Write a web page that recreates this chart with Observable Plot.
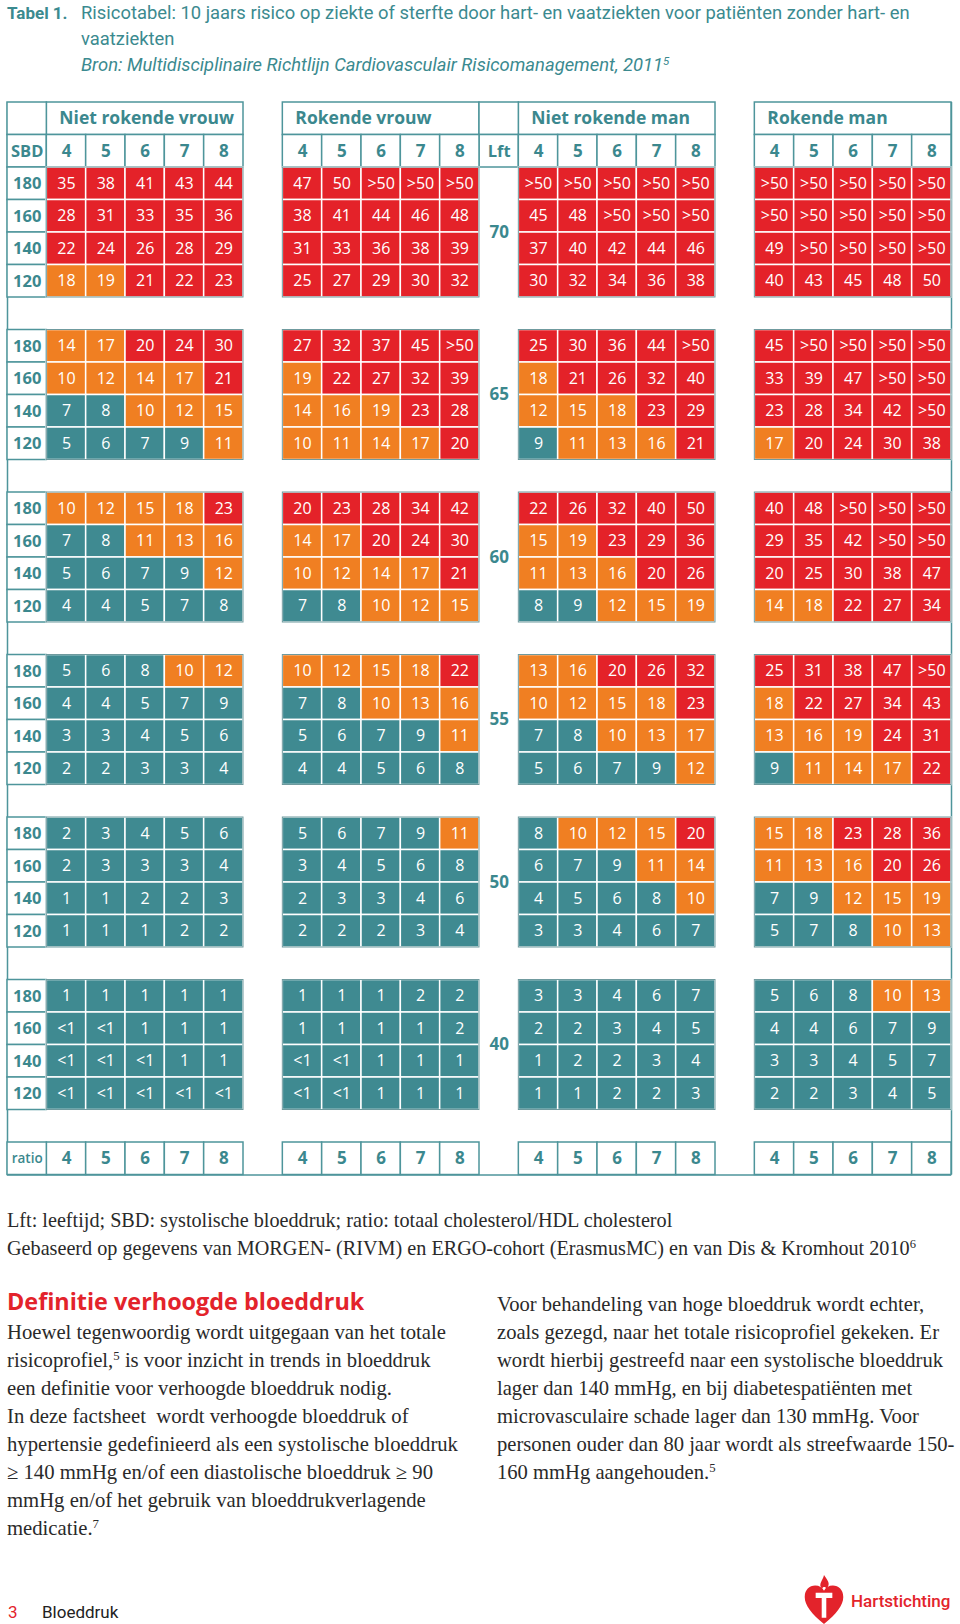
<!DOCTYPE html>
<html><head><meta charset="utf-8">
<script src="https://cdn.jsdelivr.net/npm/d3@7"></script>
<script src="https://cdn.jsdelivr.net/npm/@observablehq/plot@0.6"></script>
<style>
body{margin:0;background:#fff;}
#page{position:relative;width:960px;height:1624px;overflow:hidden;font-family:Roboto,sans-serif;}
.abs{position:absolute;white-space:nowrap;}
.title{color:#3b8a8f;font-family:Roboto,sans-serif;font-size:18.4px;line-height:26px;}
.serif{font-family:"Liberation Serif",serif;color:#2a2a2a;}
sup{font-size:0.62em;line-height:0;vertical-align:0.55em;}
</style></head><body>
<div id="page">
  <div class="abs title" style="left:7px;top:0px;font-weight:bold;font-size:17px;">Tabel 1.</div>
  <div class="abs title" style="left:81px;top:0px;">Risicotabel: 10 jaars risico op ziekte of sterfte door hart- en vaatziekten voor patiënten zonder hart- en<br>vaatziekten<br><i>Bron: Multidisciplinaire Richtlijn Cardiovasculair Risicomanagement, 2011<sup>5</sup></i></div>
  <div id="chart" class="abs" style="left:0;top:90px"></div>
  <div class="abs serif" style="left:7px;top:1206px;font-size:20.2px;line-height:28px;">Lft: leeftijd; SBD: systolische bloeddruk; ratio: totaal cholesterol/HDL cholesterol<br>Gebaseerd op gegevens van MORGEN- (RIVM) en ERGO-cohort (ErasmusMC) en van Dis &amp; Kromhout 2010<sup>6</sup></div>
  <div class="abs" style="left:7px;top:1286px;font-family:'Open Sans',sans-serif;font-weight:bold;font-size:23.4px;line-height:30px;color:#e3232b;">Definitie verhoogde bloeddruk</div>
  <div class="abs serif" style="left:7px;top:1318px;font-size:20.7px;line-height:28px;">Hoewel tegenwoordig wordt uitgegaan van het totale<br>risicoprofiel,<sup>5</sup> is voor inzicht in trends in bloeddruk<br>een definitie voor verhoogde bloeddruk nodig.<br>In deze factsheet&nbsp; wordt verhoogde bloeddruk of<br>hypertensie gedefinieerd als een systolische bloeddruk<br>≥ 140 mmHg en/of een diastolische bloeddruk ≥ 90<br>mmHg en/of het gebruik van bloeddrukverlagende<br>medicatie.<sup>7</sup></div>
  <div class="abs serif" style="left:497px;top:1290px;font-size:20.6px;line-height:28px;">Voor behandeling van hoge bloeddruk wordt echter,<br>zoals gezegd, naar het totale risicoprofiel gekeken. Er<br>wordt hierbij gestreefd naar een systolische bloeddruk<br>lager dan 140 mmHg, en bij diabetespatiënten met<br>microvasculaire schade lager dan 130 mmHg. Voor<br>personen ouder dan 80 jaar wordt als streefwaarde 150-<br>160 mmHg aangehouden.<sup>5</sup></div>
  <div class="abs" style="left:8px;top:1601px;font-size:17px;line-height:22px;color:#e3232b;">3</div>
  <div class="abs" style="left:42px;top:1601px;font-size:17px;line-height:22px;color:#222;">Bloeddruk</div>
  <svg class="abs" style="left:802px;top:1575px" width="44" height="50" viewBox="0 0 40 48">
    <path d="M20 0 C23 5 27 8 22.5 13 C21.5 11 19 11 18 13 C14 9 19 5 20 0Z" fill="#e3232b"/>
    <path d="M20 47 C8 37 1.5 29 1.5 21 C1.5 14 6 10 11.5 10 C15.5 10 18.5 12 20 15 C21.5 12 24.5 10 28.5 10 C34 10 38.5 14 38.5 21 C38.5 29 32 37 20 47Z" fill="#e3232b"/>
    <path d="M12 17 h16 v5 h-16z M17.8 22 h4.4 v19 h-4.4z" fill="#fff"/>
  </svg>
  <div class="abs" style="left:851px;top:1589px;font-size:17px;line-height:24px;color:#e3232b;font-weight:500;">Hartstichting</div>
</div>
<script>
const groups = ["Niet rokende vrouw", "Rokende vrouw", "Niet rokende man", "Rokende man"];
const ratios = ["4", "5", "6", "7", "8"];
const sbd = ["180", "160", "140", "120"];
const ages = ["70", "65", "60", "55", "50", "40"];

// per age band (70,65,60,55,50,40), rows SBD 180,160,140,120, columns ratio 4..8
const nietRokendeVrouw = [
  [["35","38","41","43","44"],["28","31","33","35","36"],["22","24","26","28","29"],["18","19","21","22","23"]],
  [["14","17","20","24","30"],["10","12","14","17","21"],["7","8","10","12","15"],["5","6","7","9","11"]],
  [["10","12","15","18","23"],["7","8","11","13","16"],["5","6","7","9","12"],["4","4","5","7","8"]],
  [["5","6","8","10","12"],["4","4","5","7","9"],["3","3","4","5","6"],["2","2","3","3","4"]],
  [["2","3","4","5","6"],["2","3","3","3","4"],["1","1","2","2","3"],["1","1","1","2","2"]],
  [["1","1","1","1","1"],["<1","<1","1","1","1"],["<1","<1","<1","1","1"],["<1","<1","<1","<1","<1"]]
];
const rokendeVrouw = [
  [["47","50",">50",">50",">50"],["38","41","44","46","48"],["31","33","36","38","39"],["25","27","29","30","32"]],
  [["27","32","37","45",">50"],["19","22","27","32","39"],["14","16","19","23","28"],["10","11","14","17","20"]],
  [["20","23","28","34","42"],["14","17","20","24","30"],["10","12","14","17","21"],["7","8","10","12","15"]],
  [["10","12","15","18","22"],["7","8","10","13","16"],["5","6","7","9","11"],["4","4","5","6","8"]],
  [["5","6","7","9","11"],["3","4","5","6","8"],["2","3","3","4","6"],["2","2","2","3","4"]],
  [["1","1","1","2","2"],["1","1","1","1","2"],["<1","<1","1","1","1"],["<1","<1","1","1","1"]]
];
const nietRokendeMan = [
  [[">50",">50",">50",">50",">50"],["45","48",">50",">50",">50"],["37","40","42","44","46"],["30","32","34","36","38"]],
  [["25","30","36","44",">50"],["18","21","26","32","40"],["12","15","18","23","29"],["9","11","13","16","21"]],
  [["22","26","32","40","50"],["15","19","23","29","36"],["11","13","16","20","26"],["8","9","12","15","19"]],
  [["13","16","20","26","32"],["10","12","15","18","23"],["7","8","10","13","17"],["5","6","7","9","12"]],
  [["8","10","12","15","20"],["6","7","9","11","14"],["4","5","6","8","10"],["3","3","4","6","7"]],
  [["3","3","4","6","7"],["2","2","3","4","5"],["1","2","2","3","4"],["1","1","2","2","3"]]
];
const rokendeMan = [
  [[">50",">50",">50",">50",">50"],[">50",">50",">50",">50",">50"],["49",">50",">50",">50",">50"],["40","43","45","48","50"]],
  [["45",">50",">50",">50",">50"],["33","39","47",">50",">50"],["23","28","34","42",">50"],["17","20","24","30","38"]],
  [["40","48",">50",">50",">50"],["29","35","42",">50",">50"],["20","25","30","38","47"],["14","18","22","27","34"]],
  [["25","31","38","47",">50"],["18","22","27","34","43"],["13","16","19","24","31"],["9","11","14","17","22"]],
  [["15","18","23","28","36"],["11","13","16","20","26"],["7","9","12","15","19"],["5","7","8","10","13"]],
  [["5","6","8","10","13"],["4","4","6","7","9"],["3","3","4","5","7"],["2","2","3","4","5"]]
];

const teal = "#3f8a91", orange = "#f07f22", red = "#e42229";
const lineC = "#4e959b", ink = "#3b888e";
const toNum = s => s.startsWith(">") ? 51 : s.startsWith("<") ? 0.5 : +s;

const tables = [nietRokendeVrouw, rokendeVrouw, nietRokendeMan, rokendeMan];
const gc = g => 1 + g * 6;          // first column of a group block
const br = b => 2 + b * 5;          // first row of an age band
const ratioRow = 2 + ages.length * 5;

const cells = [];
tables.forEach((t, g) => t.forEach((band, b) => band.forEach((row, r) => row.forEach((v, i) =>
  cells.push({label: v, value: toNum(v), col: gc(g) + i, row: br(b) + r})))));

const blocks = [];
groups.forEach((_, g) => ages.forEach((_, b) => blocks.push({c1: gc(g), c2: gc(g) + 5, r1: br(b), r2: br(b) + 4})));

const heads = groups.map((name, g) => ({label: name, c1: gc(g), c2: gc(g) + 5, r1: 0, r2: 1}));
const emptyHeads = [{c1: 0, c2: 1, r1: 0, r2: 1}, {c1: 12, c2: 13, r1: 0, r2: 1}];

const labelBoxes = [];
labelBoxes.push({label: "SBD", c1: 0, c2: 1, r1: 1, r2: 2, size: 16.5});
labelBoxes.push({label: "Lft", c1: 12, c2: 13, r1: 1, r2: 2, size: 16.5});
groups.forEach((_, g) => ratios.forEach((q, i) => {
  labelBoxes.push({label: q, c1: gc(g) + i, c2: gc(g) + i + 1, r1: 1, r2: 2, size: 17});
  labelBoxes.push({label: q, c1: gc(g) + i, c2: gc(g) + i + 1, r1: ratioRow, r2: ratioRow + 1, size: 17});
}));
ages.forEach((_, b) => sbd.forEach((s, r) =>
  labelBoxes.push({label: s, c1: 0, c2: 1, r1: br(b) + r, r2: br(b) + r + 1, size: 16.5})));
const ratioBox = [{label: "ratio", c1: 0, c2: 1, r1: ratioRow, r2: ratioRow + 1}];

const ageLabels = ages.map((a, b) => ({label: a, c: 12.5, r: br(b) + 2}));

const chart = Plot.plot({
  width: 960,
  height: 1100,
  margin: 0,
  x: {type: "linear", domain: [0, 24], range: [7, 951], axis: null},
  y: {type: "linear", domain: [0, 33], range: [12, 1084.5], axis: null},
  color: {type: "threshold", domain: [10, 20], range: [teal, orange, red]},
  style: {fontFamily: "'Open Sans', sans-serif", background: "white"},
  marks: [
    Plot.ruleX([0, 24], {y1: 0, y2: ratioRow + 1, stroke: lineC, strokeWidth: 1.5}),
    Plot.ruleY([ratioRow + 1], {x1: 0, x2: 24, stroke: lineC, strokeWidth: 1.5}),
    Plot.rect(heads.concat(emptyHeads), {x1: "c1", x2: "c2", y1: "r1", y2: "r2", fill: "white", stroke: lineC, strokeWidth: 1.5}),
    Plot.rect(labelBoxes.concat(ratioBox), {x1: "c1", x2: "c2", y1: "r1", y2: "r2", fill: "white", stroke: lineC, strokeWidth: 1.5}),
    Plot.rect(cells, {x1: d => d.col, x2: d => d.col + 1, y1: d => d.row, y2: d => d.row + 1, fill: "value", stroke: "white", strokeWidth: 1.5}),
    Plot.rect(blocks, {x1: "c1", x2: "c2", y1: "r1", y2: "r2", fill: "none", stroke: "#6f9a9e", strokeWidth: 1}),
    Plot.text(cells, {x: d => d.col + 0.5, y: d => d.row + 0.5, text: "label", fill: "white", fontSize: 16}),
    Plot.text(heads, {x: "c1", y: d => d.r1 + 0.5, text: "label", dx: 12.5, textAnchor: "start", fill: ink, fontSize: 17.5, fontWeight: "bold"}),
    Plot.text(labelBoxes, {x: d => (d.c1 + d.c2) / 2, y: d => d.r1 + 0.5, text: "label", fill: ink, fontSize: d => d.size, fontWeight: "bold"}),
    Plot.text(ratioBox, {x: d => (d.c1 + d.c2) / 2, y: d => d.r1 + 0.5, text: "label", fill: ink, fontSize: 13.5, fontWeight: 600}),
    Plot.text(ageLabels, {x: "c", y: "r", text: "label", fill: ink, fontSize: 17, fontWeight: "bold"})
  ]
});
document.getElementById("chart").appendChild(chart);
</script>
</body></html>
